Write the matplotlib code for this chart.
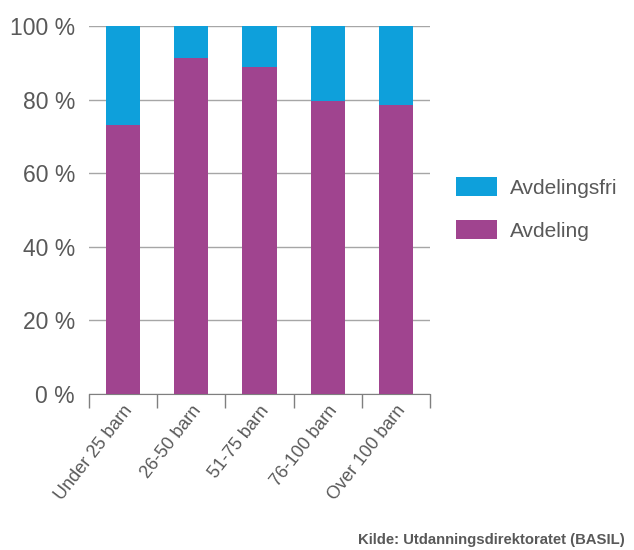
import numpy as np
import matplotlib.pyplot as plt

plt.rcParams['font.family'] = ['Liberation Sans', 'DejaVu Sans']

kategorier = ['Under 25 barn', '26-50 barn', '51-75 barn', '76-100 barn', 'Over 100 barn']
avdeling = [73.1, 91.4, 88.9, 79.7, 78.5]
avdelingsfri = [100 - v for v in avdeling]

blaa = '#0EA0DB'
lilla = '#A0448F'
tekst = '#595959'
linje = '#A6A6A6'

fig = plt.figure(figsize=(6.34, 5.5), dpi=100)
ax = fig.add_axes([89/634, 1 - 394/550, (430 - 89)/634, (394 - 26)/550])

x = np.arange(len(kategorier))
b1 = ax.bar(x, avdeling, width=0.5, color=lilla, label='Avdeling', zorder=3)
b2 = ax.bar(x, avdelingsfri, width=0.5, bottom=avdeling, color=blaa,
            label='Avdelingsfri', zorder=3)

ax.set_xlim(-0.5, len(kategorier) - 0.5)
ax.set_ylim(0, 100)
ax.set_yticks(range(0, 101, 20))
ax.set_yticklabels([f'{v} %' for v in range(0, 101, 20)], fontsize=16.5, color=tekst)
ax.yaxis.grid(True, color=linje, linewidth=1, zorder=0)
ax.tick_params(axis='y', length=0, pad=10)

ax.set_xticks(x)
ax.set_xticklabels(kategorier, rotation=52, ha='right', rotation_mode='anchor',
                   fontsize=13, color=tekst)
ax.set_xticks(np.arange(-0.5, len(kategorier)), minor=True)
ax.tick_params(axis='x', which='major', length=0, pad=6)
ax.tick_params(axis='x', which='minor', length=10, color='#7F7F7F', width=1)

for s in ['top', 'right', 'left']:
    ax.spines[s].set_visible(False)
ax.spines['bottom'].set_color('#7F7F7F')

fig.legend([b2, b1], ['Avdelingsfri', 'Avdeling'], loc='center left',
           bbox_to_anchor=(437/634, 1 - 209/550), frameon=False, fontsize=15,
           handlelength=2.0, handleheight=1.0, labelspacing=1.1, handletextpad=0.6,
           labelcolor=tekst)

fig.text(625/634, 1 - 540/550, 'Kilde: Utdanningsdirektoratet (BASIL)', ha='right',
         va='center', fontsize=10.7, fontweight='bold', color=tekst)

fig.savefig('out.png', dpi=100)
